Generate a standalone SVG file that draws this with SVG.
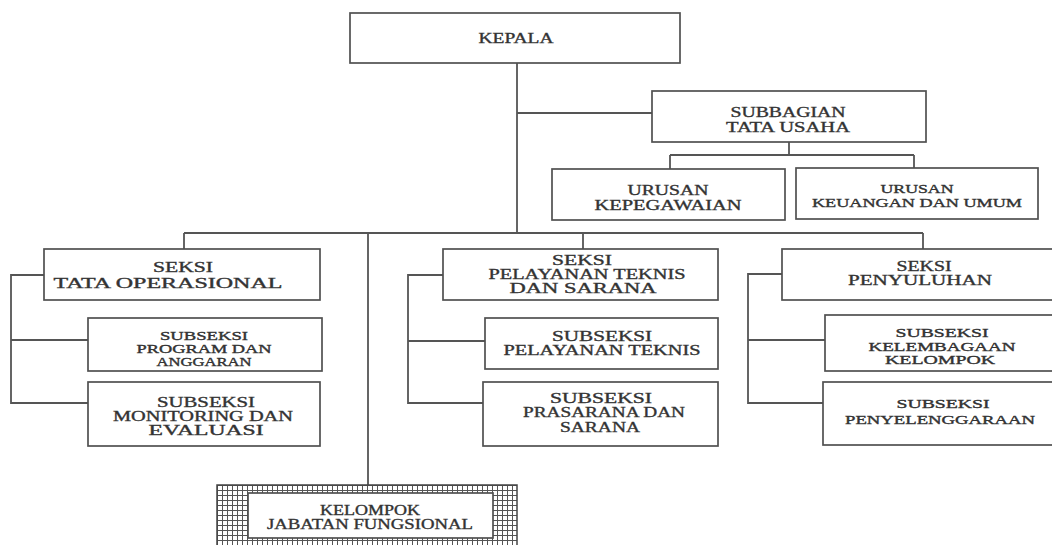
<svg xmlns="http://www.w3.org/2000/svg" width="1052" height="545" viewBox="0 0 1052 545">
<defs>
<style>
.box{fill:#fff;stroke:#505050;stroke-width:1.7}
.ln{fill:none;stroke:#555;stroke-width:1.8}
text{font-family:"Liberation Serif","Times New Roman",serif;fill:#333;stroke:#333;stroke-width:0.35;text-anchor:middle;font-size:14.5px}
.s{font-size:12px}
.xs{font-size:12.5px}
</style>
<pattern id="grid" width="5" height="5" patternUnits="userSpaceOnUse" x="217" y="485">
<rect width="5" height="5" fill="#fff"/>
<path d="M0 0.5H5M0.5 0V5" stroke="#555" stroke-width="1"/>
</pattern>
</defs>
<rect width="1052" height="545" fill="#fff"/>
<g id="connectors">
<path class="ln" d="M517 63V233M517 113H652M184 233H923M184 233V249M583 233V249M923 233V249M368 233V485"/>
<path class="ln" d="M789 142V155M670 155H914M670 155V169M914 155V168"/>
<path class="ln" d="M44 275H11V403H88M11 340H88"/>
<path class="ln" d="M443 275H408V403H483M408 341H485"/>
<path class="ln" d="M782 274H748V403H823M748 340H825"/>
</g>
<g id="kepala">
<rect class="box" x="350" y="13" width="330" height="50"/>
<text x="516" y="43" textLength="75" lengthAdjust="spacingAndGlyphs">KEPALA</text>
</g>
<g id="subbagian">
<rect class="box" x="652" y="91" width="274" height="51"/>
<text x="788" y="117" textLength="115" lengthAdjust="spacingAndGlyphs">SUBBAGIAN</text>
<text x="788" y="132" textLength="124" lengthAdjust="spacingAndGlyphs">TATA USAHA</text>
</g>
<g id="urusan-kepegawaian">
<rect class="box" x="552" y="169" width="233" height="51"/>
<text x="668" y="195" textLength="81" lengthAdjust="spacingAndGlyphs">URUSAN</text>
<text x="668" y="210" textLength="147" lengthAdjust="spacingAndGlyphs">KEPEGAWAIAN</text>
</g>
<g id="urusan-keuangan">
<rect class="box" x="796" y="168" width="242" height="51"/>
<text class="xs" x="917" y="193" textLength="73" lengthAdjust="spacingAndGlyphs">URUSAN</text>
<text class="xs" x="917" y="207" textLength="210" lengthAdjust="spacingAndGlyphs">KEUANGAN DAN UMUM</text>
</g>
<g id="seksi-tata-operasional">
<rect class="box" x="44" y="249" width="276" height="51"/>
<text x="183" y="272" textLength="60" lengthAdjust="spacingAndGlyphs">SEKSI</text>
<text x="168" y="288" textLength="229" lengthAdjust="spacingAndGlyphs">TATA OPERASIONAL</text>
</g>
<g id="subseksi-program">
<rect class="box" x="88" y="318" width="234" height="53"/>
<text class="s" x="204" y="340" textLength="88" lengthAdjust="spacingAndGlyphs">SUBSEKSI</text>
<text class="s" x="204" y="353" textLength="135" lengthAdjust="spacingAndGlyphs">PROGRAM DAN</text>
<text class="s" x="204" y="366" textLength="95" lengthAdjust="spacingAndGlyphs">ANGGARAN</text>
</g>
<g id="subseksi-monitoring">
<rect class="box" x="88" y="382" width="232" height="64"/>
<text x="206" y="407" textLength="98" lengthAdjust="spacingAndGlyphs">SUBSEKSI</text>
<text x="203" y="421" textLength="180" lengthAdjust="spacingAndGlyphs">MONITORING DAN</text>
<text x="206" y="435" textLength="115" lengthAdjust="spacingAndGlyphs">EVALUASI</text>
</g>
<g id="seksi-pelayanan">
<rect class="box" x="443" y="249" width="275" height="51"/>
<text x="582" y="265" textLength="60" lengthAdjust="spacingAndGlyphs">SEKSI</text>
<text x="587" y="279" textLength="197" lengthAdjust="spacingAndGlyphs">PELAYANAN TEKNIS</text>
<text x="583" y="293" textLength="147" lengthAdjust="spacingAndGlyphs">DAN SARANA</text>
</g>
<g id="subseksi-pelayanan">
<rect class="box" x="485" y="318" width="233" height="51"/>
<text x="602" y="341" textLength="100" lengthAdjust="spacingAndGlyphs">SUBSEKSI</text>
<text x="602" y="355" textLength="197" lengthAdjust="spacingAndGlyphs">PELAYANAN TEKNIS</text>
</g>
<g id="subseksi-prasarana">
<rect class="box" x="483" y="382" width="235" height="64"/>
<text x="601" y="403" textLength="102" lengthAdjust="spacingAndGlyphs">SUBSEKSI</text>
<text x="604" y="417" textLength="162" lengthAdjust="spacingAndGlyphs">PRASARANA DAN</text>
<text x="600" y="432" textLength="80" lengthAdjust="spacingAndGlyphs">SARANA</text>
</g>
<g id="seksi-penyuluhan">
<rect class="box" x="782" y="249" width="300" height="51"/>
<text x="924" y="271" textLength="55" lengthAdjust="spacingAndGlyphs">SEKSI</text>
<text x="920" y="285" textLength="144" lengthAdjust="spacingAndGlyphs">PENYULUHAN</text>
</g>
<g id="subseksi-kelembagaan">
<rect class="box" x="825" y="315" width="260" height="56"/>
<text class="s" x="942" y="337" textLength="93" lengthAdjust="spacingAndGlyphs">SUBSEKSI</text>
<text class="s" x="942" y="351" textLength="147" lengthAdjust="spacingAndGlyphs">KELEMBAGAAN</text>
<text class="s" x="940" y="364" textLength="110" lengthAdjust="spacingAndGlyphs">KELOMPOK</text>
</g>
<g id="subseksi-penyelenggaraan">
<rect class="box" x="823" y="382" width="260" height="63"/>
<text class="s" x="943" y="408" textLength="93" lengthAdjust="spacingAndGlyphs">SUBSEKSI</text>
<text class="s" x="940" y="424" textLength="190" lengthAdjust="spacingAndGlyphs">PENYELENGGARAAN</text>
</g>
<g id="kelompok-jabatan-fungsional">
<rect x="217" y="485" width="300" height="70" fill="url(#grid)" stroke="#444" stroke-width="1.5"/>
<rect class="box" x="248" y="493" width="245" height="45"/>
<text x="370" y="515" textLength="100" lengthAdjust="spacingAndGlyphs">KELOMPOK</text>
<text x="370" y="529" textLength="206" lengthAdjust="spacingAndGlyphs">JABATAN FUNGSIONAL</text>
</g>
</svg>
